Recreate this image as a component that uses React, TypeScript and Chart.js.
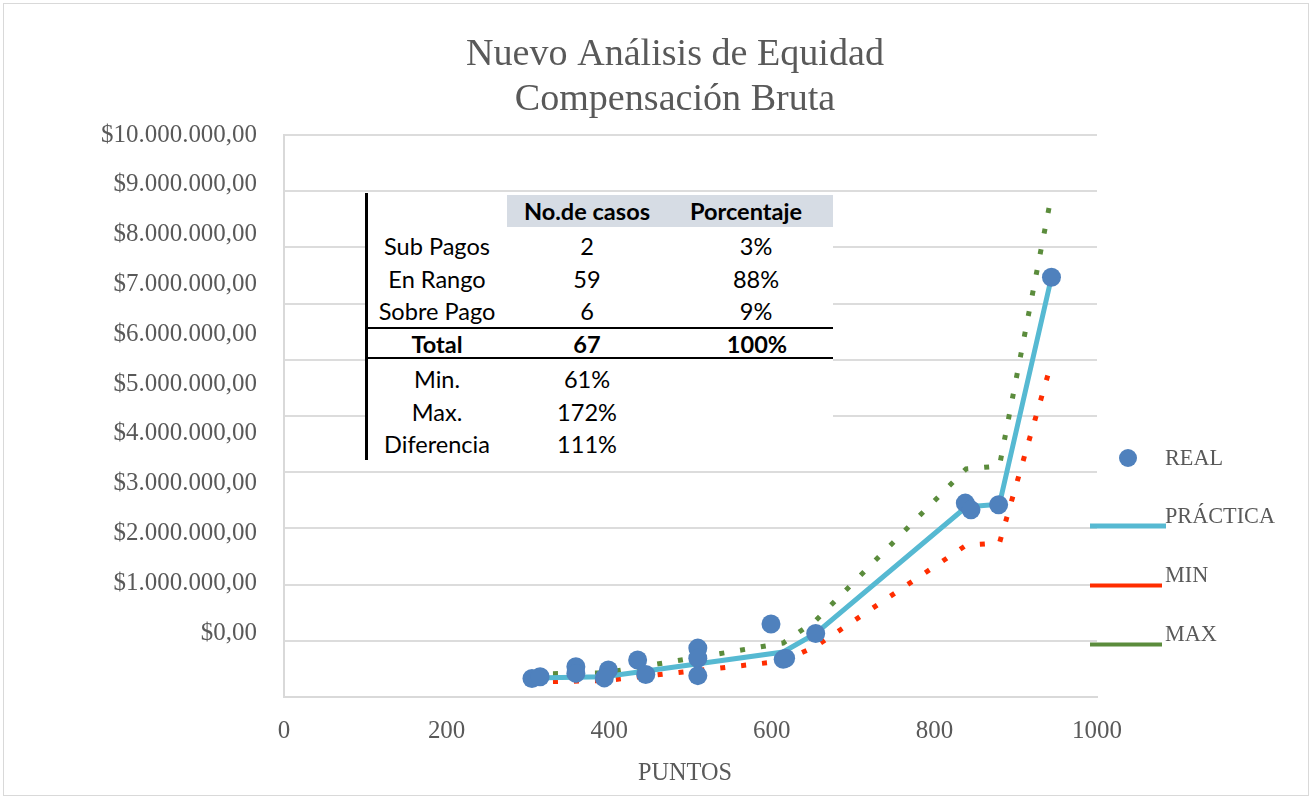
import React, { useEffect, useRef } from "react";
import { Chart, registerables } from "chart.js";

Chart.register(...registerables);

// ---------- data ----------
const X_TICKS = [0, 200, 400, 600, 800, 1000];
const Y_GRID_VALUES = [0, 1000000, 2000000, 3000000, 4000000, 5000000, 6000000, 7000000, 8000000, 9000000, 10000000];
const Y_TICK_VALUES = [0, 1000000, 2000000, 3000000, 4000000, 5000000, 6000000, 7000000, 8000000, 9000000, 10000000];
const Y_TICK_LABELS = [
  "$0,00",
  "$1.000.000,00",
  "$2.000.000,00",
  "$3.000.000,00",
  "$4.000.000,00",
  "$5.000.000,00",
  "$6.000.000,00",
  "$7.000.000,00",
  "$8.000.000,00",
  "$9.000.000,00",
  "$10.000.000,00",
];

const REAL_X = [305, 315, 359, 359, 399, 394, 435, 445, 509, 509, 509, 599, 614, 617, 654, 838, 845, 879, 944];
const REAL_Y = [330000, 360000, 540000, 420000, 480000, 340000, 660000, 400000, 870000, 690000, 380000, 1300000, 670000, 690000, 1130000, 3450000, 3330000, 3420000, 7470000];

const CURVE_X = [305, 394, 614, 654, 839, 880, 944];
const PRACTICA = [340000, 360000, 800000, 1130000, 3380000, 3430000, 7470000];
const MIN_VALUES = [270000, 290000, 640000, 900000, 2700000, 2740000, 5950000];
const MAX_VALUES = [410000, 430000, 960000, 1360000, 4060000, 4110000, 8930000];

const TITLE_LINES = ["Nuevo Análisis de Equidad", "Compensación Bruta"];
const X_TITLE = "PUNTOS";

const TABLE_HEAD = ["No.de casos", "Porcentaje"];
const TABLE_ROWS = [
  ["Sub Pagos", "2", "3%"],
  ["En Rango", "59", "88%"],
  ["Sobre Pago", "6", "9%"],
];
const TABLE_TOTAL = ["Total", "67", "100%"];
const TABLE_STATS = [
  ["Min.", "61%"],
  ["Max.", "172%"],
  ["Diferencia", "111%"],
];

// ---------- styling ----------
const SERIF_NAME = "Liberation Serif";
const SERIF = `'${SERIF_NAME}'`;
const SANS = "Lato";
const GRAY_TEXT = "#595959";
const C_REAL = "#4F81BD";
const C_PRACT = "#56B9D2";
const C_MIN = "#FF2D00";
const C_MAX = "#5B8C3C";
const CAP = 0.66;

function fitSize(text: string, fontFn: (s: number) => string, target: number) {
  const c = document.createElement("canvas").getContext("2d")!;
  c.font = fontFn(100);
  return (100 * target) / c.measureText(text).width;
}

const decorPlugin = {
  id: "decor",
  afterDraw(chart: any) {
    const ctx: CanvasRenderingContext2D = chart.ctx;
    ctx.save();
    // outer border
    ctx.strokeStyle = "#D9D9D9";
    ctx.lineWidth = 1;
    ctx.strokeRect(3.5, 3.5, 1305, 792);

    // title
    const tSize = fitSize(TITLE_LINES[0], (s) => `${s}px ${SERIF}`, 418);
    ctx.fillStyle = GRAY_TEXT;
    ctx.font = `${tSize}px ${SERIF}`;
    ctx.textAlign = "center";
    ctx.textBaseline = "alphabetic";
    const cap = tSize * CAP;
    ctx.fillText(TITLE_LINES[0], 675, 52 + cap / 2);
    ctx.fillText(TITLE_LINES[1], 675, 97 + cap / 2);

    // x title
    const xs = fitSize(X_TITLE, (s) => `${s}px ${SERIF}`, 94);
    ctx.font = `${xs}px ${SERIF}`;
    ctx.fillText(X_TITLE, 685, 772 + (xs * CAP) / 2);

    // legend
    const ls = fitSize("PRÁCTICA", (s) => `${s}px ${SERIF}`, 110);
    ctx.font = `${ls}px ${SERIF}`;
    ctx.textAlign = "left";
    const lcap = ls * CAP;
    const ds = chart.data.datasets;
    const rows = [458, 516, 575, 634];
    ds.forEach((d: any, i: number) => {
      const y = rows[i];
      if (i === 0) {
        ctx.fillStyle = d.backgroundColor;
        ctx.beginPath();
        ctx.arc(1128, 458, 9, 0, Math.PI * 2);
        ctx.fill();
      } else {
        ctx.strokeStyle = d.borderColor;
        ctx.lineWidth = i === 1 ? 5 : 4;
        ctx.beginPath();
        ctx.moveTo(1090, y + (i === 1 ? 10 : 10.5));
        ctx.lineTo(i === 1 ? 1166 : 1162, y + (i === 1 ? 10 : 10.5));
        ctx.stroke();
      }
      ctx.fillStyle = GRAY_TEXT;
      ctx.fillText(d.label, 1165, y + lcap / 2);
    });
    ctx.restore();
  },
};

export default function App() {
  const ref = useRef<HTMLCanvasElement>(null);
  const tableFont = fitSize("Sub Pagos", (s) => `${s}px ${SANS}`, 106);

  useEffect(() => {
    document.body.style.margin = "0";
    const canvas = ref.current!;
    const tickSize = fitSize("$10.000.000,00", (s) => `${s}px ${SERIF}`, 156);
    const chart = new Chart(canvas, {
      type: "scatter",
      data: {
        datasets: [
          {
            label: "REAL",
            data: REAL_X.map((x, i) => ({ x, y: REAL_Y[i] })),
            backgroundColor: C_REAL,
            borderColor: C_REAL,
            borderWidth: 0,
            pointRadius: 9.5,
            showLine: false,
            order: 0,
          },
          {
            label: "PRÁCTICA",
            data: CURVE_X.map((x, i) => ({ x, y: PRACTICA[i] })),
            borderColor: C_PRACT,
            backgroundColor: C_PRACT,
            borderWidth: 5,
            pointRadius: 0,
            showLine: true,
            tension: 0,
            order: 1,
          },
          {
            label: "MIN",
            data: CURVE_X.map((x, i) => ({ x, y: MIN_VALUES[i] })),
            borderColor: C_MIN,
            backgroundColor: C_MIN,
            borderWidth: 5,
            borderDash: [5, 16],
            pointRadius: 0,
            showLine: true,
            tension: 0,
            order: 2,
          },
          {
            label: "MAX",
            data: CURVE_X.map((x, i) => ({ x, y: MAX_VALUES[i] })),
            borderColor: C_MAX,
            backgroundColor: C_MAX,
            borderWidth: 5,
            borderDash: [5, 16],
            pointRadius: 0,
            showLine: true,
            tension: 0,
            order: 3,
          },
        ],
      },
      options: {
        responsive: false,
        animation: false,
        devicePixelRatio: 1,
        layout: { padding: { top: 135, right: 216, left: 0, bottom: 0 } },
        plugins: {
          legend: { display: false },
          title: { display: false },
          tooltip: { enabled: false },
        },
        scales: {
          x: {
            type: "linear",
            min: 0,
            max: 1000,
            afterBuildTicks: (s: any) => {
              s.ticks = X_TICKS.map((v) => ({ value: v }));
            },
            afterFit: (s: any) => {
              s.height = 102;
            },
            grid: { display: false, drawTicks: false },
            border: { display: true, color: "#D9D9D9", width: 2 },
            ticks: {
              color: GRAY_TEXT,
              font: { family: SERIF_NAME, size: tickSize },
              padding: 19,
              autoSkip: false,
              maxRotation: 0,
              callback: (v: any) => String(v),
            },
          },
          y: {
            type: "linear",
            position: "left",
            weight: 0,
            min: 0,
            max: 10000000,
            afterBuildTicks: (s: any) => {
              s.ticks = Y_GRID_VALUES.map((v) => ({ value: v }));
            },
            afterFit: (s: any) => {
              s.width = 0;
            },
            grid: { color: "#DCDCDC", lineWidth: 2, drawTicks: false },
            border: { display: true, color: "#D9D9D9", width: 2 },
            ticks: { display: false },
          },
          yLab: {
            type: "linear",
            position: "left",
            weight: 1,
            min: -1280600,
            max: 10000000,
            afterBuildTicks: (s: any) => {
              s.ticks = Y_TICK_VALUES.map((v) => ({ value: v }));
            },
            afterFit: (s: any) => {
              s.width = 284;
            },
            grid: { display: false, drawTicks: false },
            border: { display: false },
            ticks: {
              color: GRAY_TEXT,
              font: { family: SERIF_NAME, size: tickSize },
              padding: 27,
              autoSkip: false,
              callback: (_v: any, i: number) => Y_TICK_LABELS[i],
            },
          },
        },
      },
      plugins: [decorPlugin],
    });
    return () => chart.destroy();
  }, []);

  const cell = (text: string, cx: number, cy: number, bold = false) => (
    <div
      key={`${text}-${cx}-${cy}`}
      style={{
        position: "absolute",
        left: cx,
        top: cy,
        transform: "translate(-50%, -50%)",
        whiteSpace: "nowrap",
        fontFamily: SANS,
        fontSize: tableFont,
        fontWeight: bold ? 700 : 400,
        color: "#000",
        lineHeight: 1,
      }}
    >
      {text}
    </div>
  );

  const rowY = [247, 280, 312];
  const statY = [380, 413, 445];

  return (
    <div style={{ position: "fixed", left: 0, top: 0, width: 1313, height: 799, background: "#fff" }}>
      <canvas ref={ref} width={1313} height={799} style={{ display: "block", width: 1313, height: 799 }} />
      <div style={{ position: "absolute", left: 365, top: 193, width: 468, height: 267, background: "#fff", borderLeft: "3px solid #000", boxSizing: "border-box" }} />
      <div style={{ position: "absolute", left: 507, top: 195, width: 326, height: 32, background: "#D6DCE4" }} />
      <div style={{ position: "absolute", left: 368, top: 327, width: 465, height: 2, background: "#000" }} />
      <div style={{ position: "absolute", left: 368, top: 357, width: 465, height: 2, background: "#000" }} />
      {cell(TABLE_HEAD[0], 587, 212, true)}
      {cell(TABLE_HEAD[1], 746, 212, true)}
      {TABLE_ROWS.map((r, i) => [cell(r[0], 437, rowY[i]), cell(r[1], 587, rowY[i]), cell(r[2], 756, rowY[i])])}
      {cell(TABLE_TOTAL[0], 437, 345, true)}
      {cell(TABLE_TOTAL[1], 587, 345, true)}
      {cell(TABLE_TOTAL[2], 757, 345, true)}
      {TABLE_STATS.map((r, i) => [cell(r[0], 437, statY[i]), cell(r[1], 587, statY[i])])}
    </div>
  );
}
